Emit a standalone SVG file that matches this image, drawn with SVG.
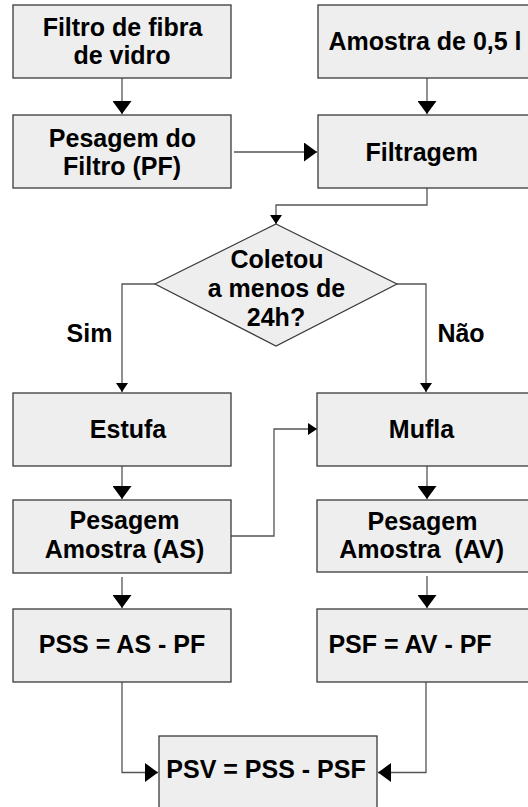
<svg xmlns="http://www.w3.org/2000/svg" width="528" height="807" viewBox="0 0 528 807">
<defs>
<style>
.box{fill:#eeeeee;stroke:#3a3a3a;stroke-width:1.3}
.dia{fill:#eeeeee;stroke:#3a3a3a;stroke-width:1.2}
.t{font-family:"Liberation Sans",Arial,sans-serif;font-weight:bold;font-size:25px;fill:#000;text-anchor:middle}
.c{fill:none;stroke:#555555;stroke-width:1.3}
</style>
<marker id="big" markerUnits="userSpaceOnUse" viewBox="0 0 13 19" refX="13" refY="9.5" markerWidth="13" markerHeight="19" orient="auto">
<path d="M0,0 L13,9.5 L0,19 z" fill="#000"/>
</marker>
<marker id="small" markerUnits="userSpaceOnUse" viewBox="0 0 9 12" refX="9" refY="6" markerWidth="9" markerHeight="12" orient="auto">
<path d="M0,0 L9,6 L0,12 z" fill="#000"/>
</marker>
</defs>
<rect width="528" height="807" fill="#ffffff"/>

<g id="connectors">
<path class="c" d="M122,78 V114" marker-end="url(#big)"/>
<path class="c" d="M427,78 V114" marker-end="url(#big)"/>
<path class="c" d="M234,152 H317" marker-end="url(#big)"/>
<path class="c" d="M427,188 V205 H276 V224" marker-end="url(#small)"/>
<path class="c" d="M155,284 H122 V392" marker-end="url(#small)"/>
<path class="c" d="M397,284 H426 V392" marker-end="url(#small)"/>
<path class="c" d="M122,466 V499" marker-end="url(#big)"/>
<path class="c" d="M427,466 V499" marker-end="url(#big)"/>
<path class="c" d="M231,536 H274 V429 H317" marker-end="url(#small)"/>
<path class="c" d="M122,577 V608" marker-end="url(#big)"/>
<path class="c" d="M427,576 V608" marker-end="url(#big)"/>
<path class="c" d="M122,682 V772.5 H158" marker-end="url(#big)"/>
<path class="c" d="M426,682 V772.5 H378" marker-end="url(#big)"/>
</g>

<g id="n1">
<rect class="box" x="13" y="5" width="218" height="73"/>
<text class="t" x="122.5" y="36">Filtro de fibra</text>
<text class="t" x="122" y="63.5">de vidro</text>
</g>
<g id="n2">
<rect class="box" x="318" y="5" width="218" height="73"/>
<text class="t" x="425" y="49.5">Amostra de 0,5 l</text>
</g>
<g id="n3">
<rect class="box" x="13" y="115" width="218" height="73"/>
<text class="t" x="122.5" y="147">Pesagem do</text>
<text class="t" x="122" y="174.5">Filtro (PF)</text>
</g>
<g id="n4">
<rect class="box" x="318" y="115" width="218" height="73"/>
<text class="t" x="421.7" y="160.5">Filtragem</text>
</g>
<g id="n5">
<polygon class="dia" points="276,224 397,284 276,346 155,284"/>
<text class="t" x="277" y="268">Coletou</text>
<text class="t" x="276.5" y="297">a menos de</text>
<text class="t" x="276" y="326">24h?</text>
</g>
<g id="labels">
<text class="t" x="89.5" y="342">Sim</text>
<text class="t" x="461" y="342">Não</text>
</g>
<g id="n6">
<rect class="box" x="13" y="393" width="218" height="73"/>
<text class="t" x="128" y="438">Estufa</text>
</g>
<g id="n7">
<rect class="box" x="317" y="393" width="218" height="73"/>
<text class="t" x="421.5" y="438">Mufla</text>
</g>
<g id="n8">
<rect class="box" x="13" y="500" width="218" height="73"/>
<text class="t" x="124.5" y="529">Pesagem</text>
<text class="t" x="124.5" y="558">Amostra (AS)</text>
</g>
<g id="n9">
<rect class="box" x="317" y="500" width="218" height="72"/>
<text class="t" x="422.5" y="529.5">Pesagem</text>
<text class="t" x="421.7" y="557.5" xml:space="preserve">Amostra  (AV)</text>
</g>
<g id="n10">
<rect class="box" x="13" y="609" width="218" height="73"/>
<text class="t" x="122" y="653">PSS = AS - PF</text>
</g>
<g id="n11">
<rect class="box" x="317" y="609" width="218" height="73"/>
<text class="t" x="410" y="653">PSF = AV - PF</text>
</g>
<g id="n12">
<rect class="box" x="159" y="736" width="218" height="73"/>
<text class="t" x="266" y="777.5">PSV = PSS - PSF</text>
</g>
</svg>
